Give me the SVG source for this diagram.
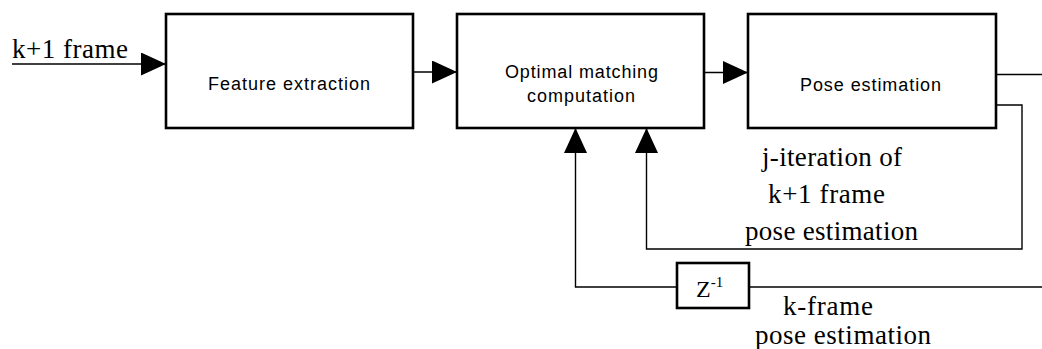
<svg xmlns="http://www.w3.org/2000/svg" width="1042" height="349" viewBox="0 0 1042 349">
<style>
.box{fill:#fff;stroke:#000;stroke-width:2.6}
.line{fill:none;stroke:#000;stroke-width:1.4}
.sans{font-family:"Liberation Sans",Arial,sans-serif;font-size:18px;fill:#000}
.serif{font-family:"Liberation Serif","Times New Roman",serif;font-size:27px;fill:#000}
</style>
<defs>
<marker id="ah" viewBox="0 0 25 23" refX="25" refY="11.5" markerWidth="25" markerHeight="23" markerUnits="userSpaceOnUse" orient="auto">
<path d="M0,0 L25,11.5 L0,23 Z" fill="#000"/>
</marker>
</defs>
<rect width="1042" height="349" fill="#fff"/>
<g id="connectors">
<path class="line" d="M12,64 H166" marker-end="url(#ah)"/>
<path class="line" d="M413,72 H457" marker-end="url(#ah)"/>
<path class="line" d="M704,72.5 H748" marker-end="url(#ah)"/>
<path class="line" d="M996,74.5 H1042"/>
<path class="line" d="M996,105 H1022 V249 H646.5 V128" marker-end="url(#ah)"/>
<path class="line" d="M1042,287 H749"/>
<path class="line" d="M677,287 H575.5 V128" marker-end="url(#ah)"/>
</g>
<g id="input-label">
<text class="serif" x="12" y="58" textLength="116" lengthAdjust="spacing">k+1 frame</text>
</g>
<g id="feature-extraction">
<rect class="box" x="166" y="14" width="247" height="114"/>
<text class="sans" x="208" y="90" textLength="162" lengthAdjust="spacing">Feature extraction</text>
</g>
<g id="optimal-matching">
<rect class="box" x="457" y="14" width="247" height="114"/>
<text class="sans" x="505" y="78" textLength="153" lengthAdjust="spacing">Optimal matching</text>
<text class="sans" x="527" y="102" textLength="108" lengthAdjust="spacing">computation</text>
</g>
<g id="pose-estimation">
<rect class="box" x="748" y="14" width="248" height="114"/>
<text class="sans" x="800" y="91" textLength="141" lengthAdjust="spacing">Pose estimation</text>
</g>
<g id="j-iteration-label">
<text class="serif" x="762" y="166" textLength="140" lengthAdjust="spacing">j-iteration of</text>
<text class="serif" x="768" y="203" textLength="117" lengthAdjust="spacing">k+1 frame</text>
<text class="serif" x="745" y="240" textLength="173" lengthAdjust="spacing">pose estimation</text>
</g>
<g id="delay">
<rect class="box" x="677" y="263" width="72" height="45"/>
<text class="serif" x="696" y="297" style="font-size:24px">Z<tspan dy="-10" style="font-size:15px">-1</tspan></text>
</g>
<g id="k-frame-label">
<text class="serif" x="783" y="315" textLength="90" lengthAdjust="spacing">k-frame</text>
<text class="serif" x="755" y="344" textLength="176" lengthAdjust="spacing">pose estimation</text>
</g>
</svg>
